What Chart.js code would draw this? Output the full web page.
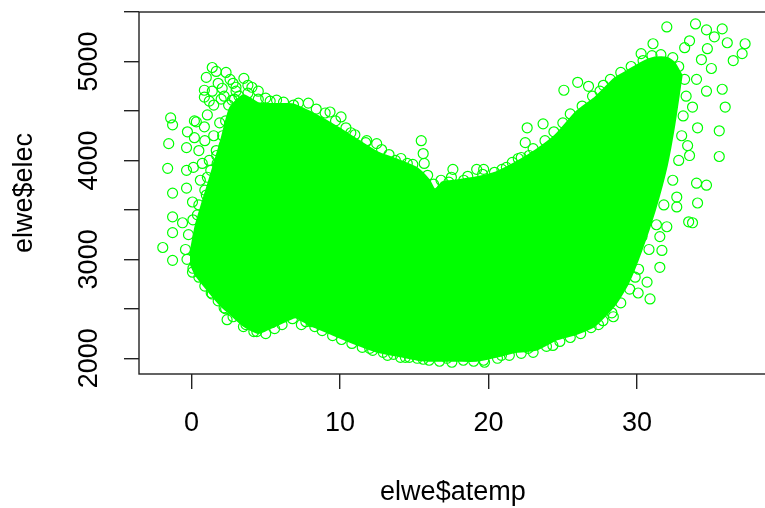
<!DOCTYPE html>
<html>
<head>
<meta charset="utf-8">
<script src="https://cdn.jsdelivr.net/npm/chart.js@4.4.1/dist/chart.umd.min.js"></script>
<style>
  html, body { margin: 0; padding: 0; background: #fff; overflow: hidden; }
  #wrap { width: 765px; height: 508px; overflow: hidden; }
  canvas { display: block; }
</style>
</head>
<body>
<!-- the R plot box runs a few pixels past the right edge, so the canvas is wider and cropped -->
<div id="wrap"><canvas id="elweChart" width="773" height="508"></canvas></div>
<script>
// axis ticks
const xTicks = [0, 10, 20, 30];
const yTicks = [2000, 2500, 3000, 3500, 4000, 4500, 5000, 5500];

// dense core of the cloud: outline (atemp -> elec)
const coreAtemp = [-0.1, 0.3, 1.2, 2.0, 2.6, 3.5, 4.5, 5.3, 6.5, 7.0, 8.0, 9.9, 11.2, 12.5, 13.9, 15.2, 16.0,
  16.4, 16.9, 17.9, 19.2, 20.5, 21.9, 23.2, 24.5, 25.9, 27.2, 28.5, 29.4, 30.3, 31.2, 32.0, 32.5, 33.0];
const coreUpper = [3040, 3350, 3800, 4205, 4530, 4660, 4580, 4570, 4570, 4560, 4490, 4330, 4205, 4085, 4005, 3920, 3800,
  3700, 3780, 3800, 3830, 3880, 3985, 4105, 4255, 4490, 4640, 4830, 4910, 4990, 5040, 5040, 4990, 4860];
const coreLower = [2970, 2840, 2670, 2530, 2450, 2330, 2255, 2305, 2385, 2415, 2335, 2215, 2135, 2065, 2025, 1985, 1975,
  1975, 1975, 1975, 1975, 2015, 2065, 2085, 2185, 2245, 2335, 2540, 2760, 3095, 3500, 3950, 4355, 4860];

// single points around the edge of the cloud
const edgeAtemp = [-1.4, -1.27, -1.53, -1.6, -1.27, -1.27, -0.33, -0.27, 0.2, -0.33, 0.13, 0.73, -0.33, 0.07, 0.87, 1.07,
  1.4, 1.0, 1.67, 2.33, 3.53, 4.07, 0.87, 5.0, 5.73, 6.87, 0.33, 0.2, 1.07, 1.33, 1.67, 1.73, 2.07, 2.73, 0.87, 7.87, 9.33,
  -1.27, -1.93, -1.27, -0.6, 0.07, 1.2, 1.33, 2.2, 2.4, 3.0, 3.67, 4.4, 5.4, 7.4, 8.07, 10.33,
  10.07, 10.73, 11.73, 12.47, 13.73, 14.53, 15.47, 15.6, 15.67, 17.6, 17.33, 18.33, 19.2, 19.67, 20.4, 21.2, 22.0, 22.6,
  22.47, 22.73,
  32.0, 33.93, 34.67, 35.73, 36.07, 35.2, 37.27, 37.07, 36.47, 35.0, 34.73, 34.33, 34.0, 35.73, 34.67, 35.93, 33.73,
  35.53, 34.07, 35.53, 33.4, 33.53, 34.0, 34.67, 34.07, 33.47, 33.73, 32.0, 31.07, 30.27, 33.2, 33.53, 26.0, 25.07,
  26.73, 27.73, 23.67, 32.67, 32.67, 31.53, 30.33,
  31.67, 31.53, 30.67, 30.07, 30.87, 29.87, 28.4, 27.4, 24.33, 22.67, 20.87, 19.73, 17.53, 17.2, 15.2, 14.07, 12.0,
  13.2, 14.67, 19.67,
  0.5, 0.9, 1.2, 0.6, 1.0, 0.4, 1.5, 1.9, 2.2, 1.5, 2.0, 2.8, 3.2, 1.2, 1.8, 2.6, 3.0, 2.2, 1.4, 2.9, 4.5, 3.8];
const edgeElec = [4430, 4360, 4170, 3920, 3670, 3430, 4130, 4290, 4400, 3900, 3930, 3970, 3720, 3580, 4340, 4460,
  4940, 4840, 4900, 4890, 4830, 4740, 4710, 4630, 4610, 4560, 4390, 4230, 3830, 3650, 4100, 3970, 4730, 4610, 4640, 4580, 4490,
  3270, 3120, 2990, 3370, 2870, 2770, 2660, 2510, 2390, 2460, 2340, 2270, 2360, 2340, 2370, 2260,
  4440, 4280, 4180, 4170, 4000, 3970, 4200, 4070, 3970, 3910, 3780, 3800, 3910, 3910, 3880, 3930, 4020, 4330,
  4180, 4050,
  5350, 5380, 5320, 5330, 5190, 5250, 5180, 5080, 5010, 4930, 5130, 5020, 4820, 4720, 4700, 4540, 4540,
  4300, 4330, 4040, 4150, 4050, 3770, 3750, 3570, 3380, 3370, 3330, 5180, 5080, 5140, 5210, 4790, 4710,
  4750, 4760, 4370, 3630, 3530, 3230, 3230,
  3090, 2920, 2770, 2660, 2600, 2820, 2420, 2340, 2130, 2100, 2030, 1960, 1960, 2000, 2000, 2010, 2100,
  2030, 2010, 1980,
  4100, 4200, 4000, 3800, 3650, 3450, 4250, 4380, 4150, 4560, 4620, 4780, 4650, 4600, 4780, 4820, 4740, 4650, 4700,
  4620, 4700, 4760];

// points sitting on the rim of the core (top, right, bottom, left)
const rimAtemp = [2.5, 3.0, 3.8, 4.5, 5.3, 6.2, 7.2, 8.4, 9.0, 9.7, 10.4, 11.0, 11.8, 12.8, 13.3, 14.1, 14.9, 15.9,
  16.3, 16.8, 17.5, 18.6, 19.6, 20.9, 21.6, 22.2, 23.0, 23.8, 24.4, 25.0, 25.5, 26.3, 27.0, 27.5, 28.2, 28.9, 29.6,
  30.4, 31.0, 31.6, 32.4, 32.8, 33.2,
  33.3, 33.1, 33.0, 32.8, 32.4, 31.8, 31.3, 30.8, 30.1, 29.5, 28.9,
  28.3, 27.7, 26.9, 26.2, 25.5, 24.8, 23.9, 23.0, 22.2, 21.4, 20.6, 19.0, 18.3, 16.7, 16.0, 15.6, 14.4, 13.6, 12.9,
  12.2, 11.5, 10.8, 10.1, 9.5, 8.8, 8.3, 7.7, 6.8, 6.1, 5.6, 5.0, 4.2, 3.5, 2.8, 2.3, 1.8, 1.4, 0.9, 0.5, 0.1, -0.3,
  -0.4, -0.2, 0.1, 0.5, 0.9, 1.3, 1.7, 2.1, 2.3];
const rimElec = [4560, 4700, 4680, 4620, 4600, 4590, 4580, 4520, 4480, 4400, 4330, 4260, 4200, 4110, 4060, 4020, 3960, 3850,
  3760, 3800, 3830, 3840, 3860, 3910, 3980, 4030, 4120, 4200, 4290, 4380, 4470, 4550, 4650, 4700, 4820, 4890, 4950,
  5010, 5060, 5070, 5040, 4950, 4820,
  4650, 4450, 4250, 4000, 3800, 3550, 3350, 3100, 2900, 2700, 2560,
  2460, 2380, 2310, 2250, 2210, 2170, 2120, 2060, 2050, 2030, 2000, 1970, 1980, 1970, 1980, 1990, 2010, 2040, 2060,
  2080, 2110, 2150, 2190, 2230, 2280, 2320, 2370, 2400, 2340, 2300, 2250, 2270, 2320, 2420, 2500, 2580, 2650, 2730, 2820, 2910, 3000,
  3100, 3250, 3400, 3550, 3700, 3900, 4050, 4250, 4400];

const GREEN = "#00ff00";
const FONT = { family: "'Liberation Sans', Arial, sans-serif", size: 27 };

const pairs = (xs, ys) => xs.map((x, i) => ({ x: x, y: ys[i] }));

const circles = (data) => ({
  data: data,
  showLine: false,
  pointStyle: "circle",
  pointRadius: 5,
  pointBorderWidth: 1.2,
  pointBorderColor: GREEN,
  pointBackgroundColor: "rgba(0,0,0,0)",
});

// plot box drawn over the points, like R's box()
const boxPlugin = {
  id: "box",
  afterDatasetsDraw(chart) {
    const { ctx, chartArea: a } = chart;
    ctx.save();
    ctx.strokeStyle = "#222";
    ctx.lineWidth = 1.4;
    ctx.strokeRect(a.left, a.top, a.right - a.left - 1, a.bottom - a.top);
    ctx.restore();
  },
};

new Chart(document.getElementById("elweChart"), {
  type: "line",
  data: {
    datasets: [
      {
        data: pairs(coreAtemp, coreUpper),
        borderColor: GREEN,
        backgroundColor: GREEN,
        borderWidth: 2,
        pointRadius: 0,
        tension: 0.2,
        fill: "+1",
      },
      {
        data: pairs(coreAtemp, coreLower),
        borderColor: GREEN,
        borderWidth: 2,
        pointRadius: 0,
        tension: 0.2,
        fill: false,
      },
      circles(pairs(rimAtemp, rimElec)),
      circles(pairs(edgeAtemp, edgeElec)),
    ],
  },
  options: {
    responsive: false,
    animation: false,
    devicePixelRatio: 1,
    layout: { padding: { left: 0, right: 0, top: 12, bottom: 0 } },
    plugins: { legend: { display: false }, tooltip: { enabled: false } },
    scales: {
      x: {
        type: "linear",
        min: -3.53,
        max: 38.73,
        afterBuildTicks: (s) => { s.ticks = xTicks.map((v) => ({ value: v })); },
        afterFit: (s) => { s.height = 134; s.paddingLeft = 0; s.paddingRight = 0; },
        border: { display: false },
        grid: { drawOnChartArea: false, color: "#222", lineWidth: 1.4, tickLength: 15 },
        ticks: { autoSkip: false, maxRotation: 0, color: "#000", font: FONT, padding: 18 },
        title: { display: true, text: "elwe$atemp", color: "#000", font: FONT, padding: { top: 0, bottom: -1 } },
      },
      y: {
        type: "linear",
        min: 1841,
        max: 5501,
        afterBuildTicks: (s) => { s.ticks = yTicks.map((v) => ({ value: v })); },
        afterFit: (s) => { s.width = 139; s.paddingTop = 0; s.paddingBottom = 0; },
        border: { display: false },
        grid: { drawOnChartArea: false, color: "#222", lineWidth: 1.4, tickLength: 15 },
        ticks: {
          autoSkip: false,
          minRotation: 90,
          maxRotation: 90,
          crossAlign: "center",
          color: "#000",
          font: FONT,
          padding: 4,
          callback: (v) => (v % 1000 === 0 ? String(v) : ""),
        },
        title: { display: true, text: "elwe$elec", color: "#000", font: FONT, padding: { top: 8, bottom: 0 } },
      },
    },
  },
  plugins: [boxPlugin],
});
</script>
</body>
</html>
